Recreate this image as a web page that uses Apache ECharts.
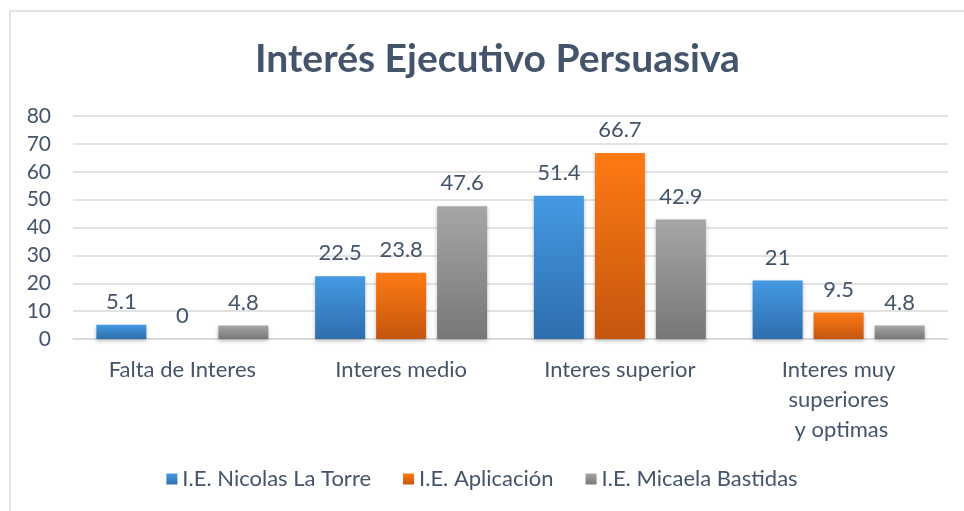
<!DOCTYPE html>
<html>
<head>
<meta charset="utf-8">
<script src="https://cdn.jsdelivr.net/npm/echarts@6/dist/echarts.min.js"></script>
<style>
  html, body { margin: 0; padding: 0; background: #fff; }
  #chart { width: 964px; height: 511px; }
</style>
</head>
<body>
<div id="chart"></div>
<script>
var categories = ['Falta de Interes', 'Interes medio', 'Interes superior', 'Interes muy\nsuperiores\n y optimas'];
var seriesNames = ['I.E. Nicolas La Torre', 'I.E. Aplicación', 'I.E. Micaela Bastidas'];
var nicolas = [5.1, 22.5, 51.4, 21];
var aplicacion = [0, 23.8, 66.7, 9.5];
var micaela = [4.8, 47.6, 42.9, 4.8];

var textColor = '#44546A';
var font = 'Lato, "Open Sans", sans-serif';

function grad(top, bottom) {
    return new echarts.graphic.LinearGradient(0, 0, 0, 1, [
        { offset: 0, color: top },
        { offset: 1, color: bottom }
    ]);
}

function makeSeries(name, data, top, bottom) {
    return {
        name: name,
        type: 'bar',
        data: data,
        barWidth: 50,
        barGap: '22%',
        itemStyle: {
            color: grad(top, bottom),
            shadowColor: 'rgba(0,0,0,0.25)',
            shadowBlur: 4,
            shadowOffsetY: 2
        },
        label: {
            show: true,
            position: 'top',
            distance: 12,
            color: textColor,
            fontFamily: font,
            fontSize: 22
        }
    };
}

var chart = echarts.init(document.getElementById('chart'));
chart.setOption({
    backgroundColor: '#fff',
    animation: false,
    graphic: [{
        type: 'rect',
        shape: { x: 10, y: 11, width: 980, height: 520 },
        style: { fill: 'none', stroke: '#D9D9D9', lineWidth: 1.5 },
        z: -1
    }],
    title: {
        text: 'Interés Ejecutivo Persuasiva',
        left: 250,
        top: 35,
        textStyle: {
            color: textColor,
            fontFamily: font,
            fontWeight: 'bold',
            fontSize: 39
        }
    },
    legend: {
        bottom: 16,
        left: 'center',
        icon: 'rect',
        itemWidth: 11,
        itemHeight: 11,
        itemGap: 32,
        textStyle: { color: textColor, fontFamily: font, fontSize: 22 },
        data: seriesNames
    },
    grid: { left: 73, right: 16, top: 116, bottom: 172 },
    xAxis: {
        type: 'category',
        data: categories,
        axisLine: { lineStyle: { color: '#D9D9D9', width: 1.5 } },
        axisTick: { show: false },
        axisLabel: {
            color: textColor,
            fontFamily: font,
            fontSize: 22,
            lineHeight: 30,
            margin: 16,
            interval: 0
        }
    },
    yAxis: {
        type: 'value',
        min: 0,
        max: 80,
        interval: 10,
        axisLine: { show: false },
        axisTick: { show: false },
        splitLine: { lineStyle: { color: '#D9D9D9', width: 1.5 } },
        axisLabel: { color: textColor, fontFamily: font, fontSize: 21, margin: 22 }
    },
    series: [
        makeSeries(seriesNames[0], nicolas, '#4599E3', '#2E6EAD'),
        makeSeries(seriesNames[1], aplicacion, '#FF7A14', '#C4560E'),
        makeSeries(seriesNames[2], micaela, '#A6A6A6', '#777777')
    ]
});
</script>
</body>
</html>
